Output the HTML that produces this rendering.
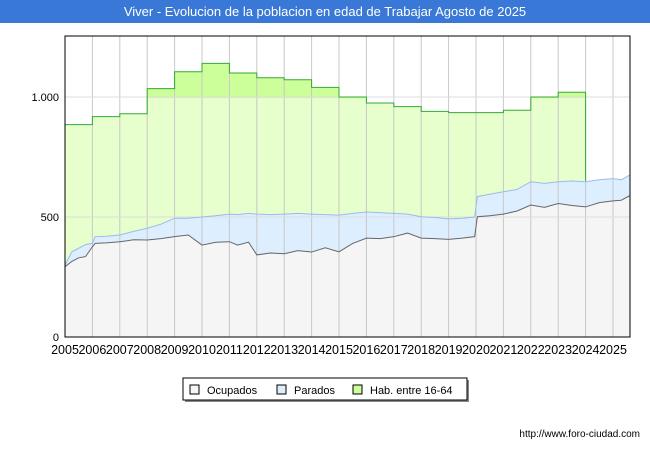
<!DOCTYPE html>
<html><head><meta charset="utf-8"><style>
body{margin:0;background:#fff;font-family:"Liberation Sans",sans-serif}
#wrap{position:relative;width:650px;height:450px;overflow:hidden}
</style></head><body>
<div id="wrap">
<svg id="svg" width="650" height="450" xmlns="http://www.w3.org/2000/svg"></svg>
</div>
<script>
const habYears=[2005,2006,2007,2008,2009,2010,2011,2012,2013,2014,2015,2016,2017,2018,2019,2020,2021,2022,2023];
const habValues=[885,918,930,1035,1105,1140,1100,1080,1072,1040,1000,975,960,940,935,935,945,1000,1020];
const seriesTimes=[2005,2005.25,2005.5,2005.75,2006,2006.1,2006.5,2007,2007.5,2008,2008.5,2009,2009.5,2010,2010.5,2011,2011.3,2011.7,2012,2012.5,2013,2013.5,2014,2014.5,2015,2015.5,2016,2016.5,2017,2017.5,2018,2018.5,2019,2019.5,2019.95,2020.05,2020.5,2021,2021.5,2022,2022.5,2023,2023.5,2024,2024.5,2025,2025.3,2025.6];
const ocupados=[293,315,330,335,376,390,392,397,405,404,410,418,425,383,395,397,383,395,342,350,347,360,354,372,355,390,412,410,418,433,412,410,407,412,418,501,505,512,525,550,540,556,548,542,560,567,570,588];
const parados=[300,355,370,385,390,418,420,425,440,453,470,495,495,500,505,512,510,515,512,510,512,515,512,510,508,515,521,518,515,512,501,498,492,495,500,585,595,605,615,647,640,647,650,647,655,660,655,674];
const yTicks=[0,500,1000];
const xTicks=[2005,2006,2007,2008,2009,2010,2011,2012,2013,2014,2015,2016,2017,2018,2019,2020,2021,2022,2023,2024,2025];

const svg=document.getElementById('svg');
const NS='http://www.w3.org/2000/svg';
const L=65,R=630,T=36,B=337;
const X=t=>L+(t-2005)*27.4;
const Y=v=>B-v*0.24;
function mk(tag,attrs,parent){const e=document.createElementNS(NS,tag);for(const k in attrs)e.setAttribute(k,attrs[k]);(parent||svg).appendChild(e);return e;}

let e=mk('rect',{x:0,y:0,width:650,height:23,fill:'#3a78d8'});


e=mk('text',{x:325,y:16,'text-anchor':'middle','font-size':13,fill:'#fff'});
e.textContent='Viver - Evolucion de la poblacion en edad de Trabajar Agosto de 2025';



mk('rect',{x:L,y:T,width:R-L,height:B-T,fill:'#fff'});
let hp='M'+X(habYears[0])+','+Y(0);
habYears.forEach((yr,i)=>{hp+=' L'+X(yr)+','+Y(habValues[i])+' L'+X(yr+1)+','+Y(habValues[i]);});
hp+=' L'+X(2024)+','+Y(0)+' Z';
e=mk('path',{d:hp,fill:'#e6ffcc',stroke:'none'});


habYears.forEach((yr,i)=>{if(habValues[i]>995){const r=mk('rect',{x:X(yr),y:Y(habValues[i]),width:27.4,height:Y(995)-Y(habValues[i]),fill:'#ccff99'});

}});
function areaPath(vals){let p='M'+X(seriesTimes[0])+','+Y(0);seriesTimes.forEach((t,i)=>p+=' L'+X(t)+','+Y(vals[i]));p+=' L'+X(seriesTimes[seriesTimes.length-1])+','+Y(0)+' Z';return p;}
function linePath(vals){return seriesTimes.map((t,i)=>(i?'L':'M')+X(t)+','+Y(vals[i])).join(' ');}
e=mk('path',{d:areaPath(parados),fill:'#ddeeff'});


e=mk('path',{d:areaPath(ocupados),fill:'#f5f5f5'});


xTicks.forEach(t=>{const g=mk('line',{x1:X(t),x2:X(t),y1:T,y2:B,stroke:'#c8c8c8','stroke-width':1});

});
yTicks.forEach(v=>{const g=mk('line',{x1:L,x2:R,y1:Y(v),y2:Y(v),stroke:'#ddd','stroke-width':1});

});
let hl='';habYears.forEach((yr,i)=>{hl+=(i?' L':'M')+X(yr)+','+Y(habValues[i])+' L'+X(yr+1)+','+Y(habValues[i]);});
hl+=' L'+X(2024)+','+Y(650);
e=mk('path',{d:hl,fill:'none',stroke:'#33aa33','stroke-width':1});


e=mk('path',{d:linePath(parados),fill:'none',stroke:'#99bbee','stroke-width':1});


e=mk('path',{d:linePath(ocupados),fill:'none',stroke:'#666','stroke-width':1});


e=mk('rect',{x:L,y:T,width:R-L,height:B-T,fill:'none',stroke:'#000','stroke-width':1});


yTicks.forEach(v=>{const t=mk('text',{x:L-6,y:Y(v)+4,'text-anchor':'end','font-size':11,fill:'#000'});t.textContent=v===1000?'1.000':String(v);

});
xTicks.forEach(v=>{const t=mk('text',{x:X(v),y:354,'text-anchor':'middle','font-size':12.5,fill:'#000'});t.textContent=v;

});
const lg=mk('g',{});


mk('rect',{x:185,y:380,width:284,height:22,fill:'#888'},lg);
mk('rect',{x:183,y:378,width:284,height:22,fill:'#fff',stroke:'#000','stroke-width':1},lg);
[['Ocupados','#f5f5f5',190],['Parados','#ddeeff',277],['Hab. entre 16-64','#ccff99',353]].forEach(([n,c,x])=>{
const it=mk('g',{},lg);


mk('rect',{x:x,y:385,width:9,height:9,fill:c,stroke:'#000','stroke-width':1},it);
const t=mk('text',{x:x+17,y:394,'font-size':11,fill:'#000'},it);t.textContent=n;});
e=mk('text',{x:640,y:437,'text-anchor':'end','font-size':10,fill:'#000'});
e.textContent='http://www.foro-ciudad.com';


</script>
</body></html>
